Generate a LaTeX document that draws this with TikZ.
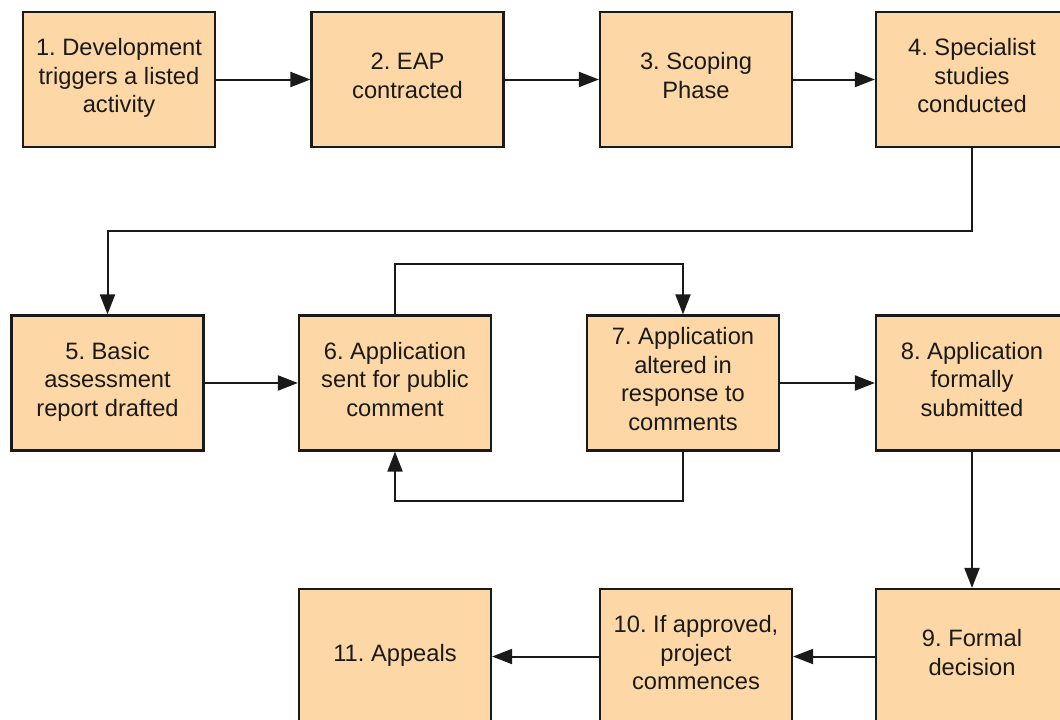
\documentclass[tikz,border=0pt]{standalone}
\usepackage{fontspec}
\setmainfont{Liberation Sans}
\usetikzlibrary{arrows.meta}
\definecolor{boxfill}{HTML}{FDD8A6}
\definecolor{ink}{HTML}{1A1A1A}
\frenchspacing
\begin{document}
\begin{tikzpicture}[x=1pt,y=-1pt,
  stage/.style={draw=ink, line width=2.2pt, fill=boxfill,
    minimum width=192pt, minimum height=135pt, inner sep=0pt,
    text depth=8pt, align=center, text=ink,
    font=\fontsize{23.7}{28.5}\selectfont},
  flow/.style={draw=ink, line width=2pt, -{Triangle[length=20pt,width=15pt]}}]
\useasboundingbox (0,0) rectangle (1060,720);
\clip (0,0) rectangle (1060,720);

% first row
\node[stage] (s1) at (119,79.5)   {1. Development\\triggers a listed\\activity};
\node[stage] (s2) at (407.5,79.5) {2. EAP\\contracted};
\node[stage] (s3) at (696,79.5)   {3. Scoping\\Phase};
\node[stage] (s4) at (972,79.5)   {4. Specialist\\studies\\conducted};

% second row
\node[stage] (s5) at (107.5,383) {5. Basic\\assessment\\report drafted};
\node[stage] (s6) at (395,383)   {6. Application\\sent for public\\comment};
\node[stage] (s7) at (683,383)   {7. Application\\altered in\\response to\\comments};
\node[stage] (s8) at (972,383)   {8. Application\\formally\\submitted};

% third row
\node[stage] (s9)  at (972,656.5) {9. Formal\\decision};
\node[stage] (s10) at (696,656.5) {10. If approved,\\project\\commences};
\node[stage] (s11) at (395,656.5) {11. Appeals};

% routing level between first and second rows
\coordinate (r1) at (0,231);

% connectors
\draw[flow] (s1) -- (s2);
\draw[flow] (s2) -- (s3);
\draw[flow] (s3) -- (s4);
\draw[flow] (s4.south) |- (s5.north |- r1) -- (s5.north);
\draw[flow] (s5) -- (s6);
\draw[flow] (s6.north) -- ++(0,-50) -| (s7.north);
\draw[flow] (s7.south) -- ++(0,49) -| (s6.south);
\draw[flow] (s7) -- (s8);
\draw[flow] (s8) -- (s9);
\draw[flow] (s9) -- (s10);
\draw[flow] (s10) -- (s11);
\end{tikzpicture}
\end{document}
